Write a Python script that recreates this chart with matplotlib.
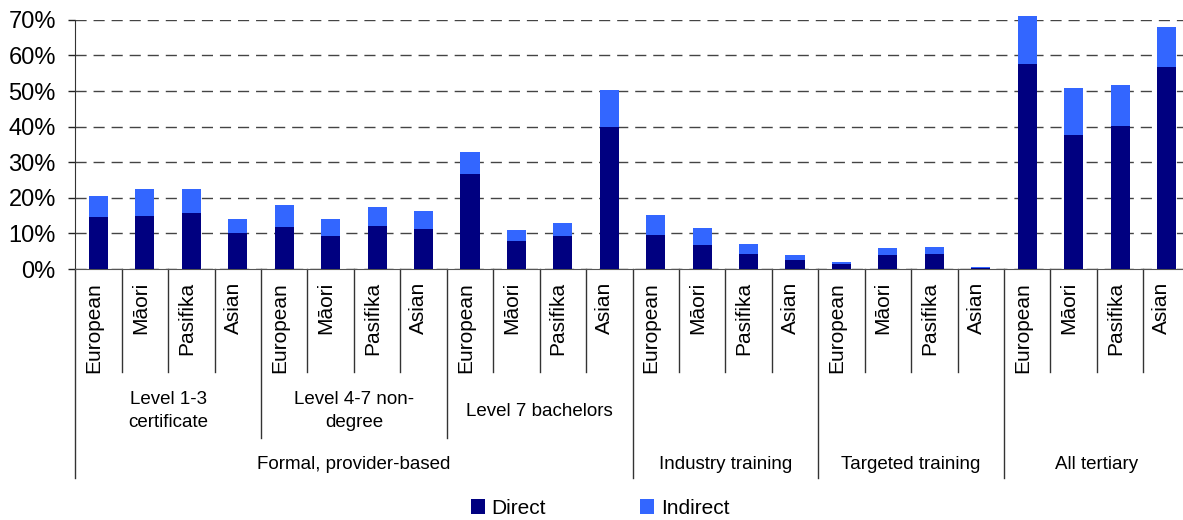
import matplotlib.pyplot as plt
from matplotlib.ticker import FuncFormatter

plt.rcParams['font.family'] = ['Liberation Sans', 'DejaVu Sans']

ethnicities = ['European', 'Māori', 'Pasifika', 'Asian']
subgroups = ['Level 1-3\ncertificate', 'Level 4-7 non-\ndegree', 'Level 7 bachelors']
groups = ['Formal, provider-based', 'Industry training', 'Targeted training', 'All tertiary']

# percent of population, 4 ethnicities per block
direct = [14.6, 14.9, 15.7, 10.1,
          11.8, 9.3, 12.1, 11.2,
          26.7, 7.9, 9.3, 39.9,
          9.6, 6.7, 4.2, 2.5,
          1.4, 3.9, 4.2, 0.4,
          57.6, 37.6, 40.2, 56.7]
total = [20.5, 22.5, 22.5, 14.0,
         18.0, 14.0, 17.4, 16.3,
         32.9, 11.0, 12.9, 50.3,
         15.2, 11.5, 7.0, 3.9,
         2.0, 5.9, 6.2, 0.6,
         71.1, 50.8, 51.7, 68.0]
indirect = [t - d for t, d in zip(total, direct)]

fig = plt.figure(figsize=(11.83, 5.2), dpi=100)
ax = fig.add_axes([75.3 / 1183, 1 - 269 / 520, 1114.4 / 1183, 249.2 / 520])

x = list(range(len(direct)))
w = 0.41
ax.bar(x, direct, w, color='#000080', label='Direct', clip_on=False, zorder=3)
ax.bar(x, indirect, w, bottom=direct, color='#3366FF', label='Indirect', clip_on=False, zorder=3)

ax.set_xlim(-0.5, len(x) - 0.5)
ax.set_ylim(0, 70)
ax.set_yticks(range(0, 71, 10))
ax.yaxis.set_major_formatter(FuncFormatter(lambda v, p: f'{int(v)}%'))
ax.tick_params(axis='y', labelsize=17, length=5, width=1, pad=9, color='#222222')
ax.set_xticks([])
ax.yaxis.grid(True, linestyle=(0, (8, 5)), color='#444444', linewidth=1)
ax.set_axisbelow(True)
for s in ['top', 'right']:
    ax.spines[s].set_visible(False)
ax.spines['bottom'].set_color('#555555')
ax.spines['left'].set_color('#333333')

tr = ax.get_xaxis_transform()
ah = 249.2

def ay(py):
    return (269 - py) / ah

# separators below the axis
for i in range(len(x) + 1):
    b = i - 0.5
    if i % 4 != 0:
        y2 = ay(372)
    elif i in (4, 8):
        y2 = ay(438)
    else:
        y2 = ay(478)
    ax.plot([b, b], [0, y2], transform=tr, color='#333333', lw=1, clip_on=False)

# ethnicity labels
for i in x:
    ax.text(i - 0.1, ay(282), ethnicities[i % 4], rotation=90, ha='center', va='top',
            fontsize=15, transform=tr)

# level labels
for k, lab in enumerate(subgroups):
    ax.text(4 * k + 1.5, ay(411), lab, ha='center', va='center', fontsize=13.5,
            linespacing=1.45, transform=tr)

# top-level groups
centers = [5.5, 13.5, 17.5, 21.5]
for c, lab in zip(centers, groups):
    ax.text(c, ay(464), lab, ha='center', va='center', fontsize=13.5, transform=tr)

fig.legend(loc='center', bbox_to_anchor=(600 / 1183, 1 - 508 / 520), ncol=2,
           frameon=False, fontsize=15, handlelength=0.7, handleheight=0.7,
           handletextpad=0.3, columnspacing=4.5)

fig.savefig('out.png', dpi=100)
